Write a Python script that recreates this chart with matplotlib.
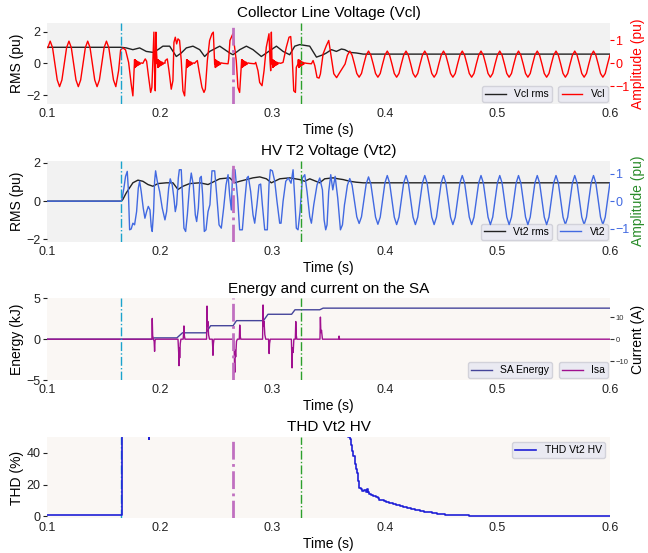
import numpy as np
import matplotlib
matplotlib.use('Agg')
import matplotlib.pyplot as plt

plt.rcParams['font.family'] = ['Liberation Sans', 'DejaVu Sans']

# ---- data ------------------------------------------------------------
dt = 1 / 480          # sample step of the steady parts (1/8 of a 60 Hz cycle)
time_ticks = [0.1, 0.2, 0.3, 0.4, 0.5, 0.6]
events = [0.1655, 0.265, 0.3255]

# Vcl waveform (pu), steady before the fault
vcl_pre_start = 0.10032
vcl_pre = [0.68,
           0.96, 0.68, -0.02, -0.72, -1.01, -0.72, -0.02, 0.68,
           0.96, 0.68, -0.02, -0.72, -1.01, -0.72, -0.02, 0.68,
           0.96, 0.68, -0.02, -0.72, -1.01, -0.72, -0.02, 0.68,
           0.96, 0.68, -0.02, -0.72, -1.01]

# Vcl during the fault (t, pu)
vcl_fault = [
    (0.1632, -0.32), (0.1650, 0.58), (0.1670, 0.67), (0.1694, 0.58), (0.1721, 0.04),
    (0.1744, -0.90), (0.1759, -1.41), (0.1768, -0.46),
    (0.1774, 0.16), (0.1777, -0.18), (0.1780, 0.15), (0.1783, -0.16), (0.1786, 0.12),
    (0.1790, -0.13), (0.1794, 0.10), (0.1798, -0.10), (0.1803, 0.07), (0.1808, -0.08),
    (0.1814, 0.05), (0.1820, -0.05), (0.1830, 0.02), (0.1848, 0.0),
    (0.1857, 0.09), (0.1869, 0.19), (0.1881, 0.09), (0.1899, -0.61), (0.1917, -1.26),
    (0.1928, -1.04), (0.1940, 0.55), (0.1946, 1.35), (0.1952, -0.32), (0.1958, -1.19),
    (0.1964, 1.35), (0.1970, 0.41), (0.1976, -0.03),
    (0.1979, 0.16), (0.1982, -0.18), (0.1985, 0.15), (0.1988, -0.16), (0.1991, 0.12),
    (0.1995, -0.13), (0.1999, 0.10), (0.2003, -0.10), (0.2008, 0.07), (0.2013, -0.08),
    (0.2019, 0.05), (0.2025, -0.05), (0.2033, 0.02), (0.2044, 0.0),
    (0.2047, 0.12), (0.2065, 0.19), (0.2080, -0.32), (0.2100, -1.12), (0.2115, -0.75),
    (0.2124, 0.91), (0.2136, 1.13), (0.2148, 0.84), (0.2160, 1.06), (0.2174, 0.99),
    (0.2189, 0.12), (0.2204, -1.19), (0.2219, -1.41), (0.2228, -0.61), (0.2234, -0.03),
    (0.2237, 0.16), (0.2240, -0.18), (0.2243, 0.15), (0.2246, -0.16), (0.2249, 0.12),
    (0.2253, -0.13), (0.2257, 0.10), (0.2261, -0.10), (0.2266, 0.07), (0.2271, -0.08),
    (0.2277, 0.05), (0.2283, -0.05), (0.2292, 0.02), (0.2308, 0.0),
    (0.2314, 0.04), (0.2332, 0.12), (0.2347, -0.32), (0.2373, -1.04), (0.2391, -1.26),
    (0.2403, -1.12), (0.2421, 0.12), (0.2441, 0.99), (0.2462, 1.28), (0.2474, 1.35),
    (0.2486, -0.03),
    (0.2489, 0.16), (0.2492, -0.18), (0.2495, 0.15), (0.2498, -0.16), (0.2501, 0.12),
    (0.2505, -0.13), (0.2509, 0.10), (0.2513, -0.10), (0.2518, 0.07), (0.2523, -0.08),
    (0.2529, 0.05), (0.2535, -0.05), (0.2544, 0.02), (0.2562, 0.0),
    (0.2605, -0.02), (0.2611, 0.19), (0.2622, 0.99), (0.2648, 1.28), (0.2678, 0.12),
    (0.2693, -1.04), (0.2708, -1.26), (0.2723, -0.03),
    (0.2726, 0.16), (0.2729, -0.18), (0.2732, 0.15), (0.2735, -0.16), (0.2738, 0.12),
    (0.2742, -0.13), (0.2746, 0.10), (0.2750, -0.10), (0.2755, 0.07), (0.2760, -0.08),
    (0.2766, 0.05), (0.2772, -0.05), (0.2781, 0.02), (0.2799, 0.0),
    (0.2842, -0.02), (0.2851, 0.04), (0.2871, -0.32), (0.2886, -0.83), (0.2907, -0.97),
    (0.2925, -0.32), (0.2945, 0.70), (0.2969, 1.28), (0.2978, 0.12), (0.2984, -0.32),
    (0.2990, 1.35), (0.2996, -0.03),
    (0.2999, 0.16), (0.3002, -0.18), (0.3005, 0.15), (0.3008, -0.16), (0.3011, 0.12),
    (0.3015, -0.13), (0.3019, 0.10), (0.3023, -0.10), (0.3028, 0.07), (0.3033, -0.08),
    (0.3039, 0.05), (0.3045, -0.05), (0.3054, 0.02), (0.3072, 0.0),
    (0.3094, 0.04), (0.3123, 0.70), (0.3147, 1.13), (0.3162, 1.16), (0.3174, 0.41),
    (0.3189, -1.19), (0.3204, -1.26), (0.3212, -0.17), (0.3227, -0.03),
    (0.3230, 0.16), (0.3233, -0.18), (0.3236, 0.15), (0.3239, -0.16), (0.3242, 0.12),
    (0.3246, -0.13), (0.3250, 0.10), (0.3254, -0.10), (0.3259, 0.07), (0.3264, -0.08),
    (0.3270, 0.05), (0.3276, -0.05), (0.3285, 0.02), (0.3303, 0.0),
    (0.3346, -0.02), (0.3361, 0.12), (0.3376, -0.10), (0.3396, -0.61), (0.3414, -0.64),
    (0.3426, -0.46), (0.3450, 0.41), (0.3479, 0.77), (0.3500, 0.99), (0.3525, 0.20),
    (0.3545, -0.45), (0.3570, -0.62), (0.3600, -0.38)]

# Vcl after the fault is cleared
vcl_post_start = 0.36453
vcl_post = [-0.03, 0.35, 0.53, 0.35, -0.03, -0.44, -0.60, -0.44,
            -0.03, 0.35, 0.53, 0.35, -0.03, -0.44, -0.60, -0.44,
            -0.03, 0.35, 0.53, 0.35, -0.03, -0.44, -0.60, -0.44,
            -0.03, 0.35, 0.53, 0.35, -0.03, -0.44, -0.60, -0.44,
            -0.03, 0.35, 0.53, 0.35, -0.03, -0.44, -0.60, -0.44,
            -0.03, 0.35, 0.53, 0.35, -0.03, -0.44, -0.60, -0.44,
            -0.03, 0.35, 0.53, 0.35, -0.03, -0.44, -0.60, -0.44,
            -0.03, 0.35, 0.53, 0.35, -0.03, -0.44, -0.60, -0.44,
            -0.03, 0.35, 0.53, 0.35, -0.03, -0.44, -0.60, -0.44,
            -0.03, 0.35, 0.53, 0.35, -0.03, -0.44, -0.60, -0.44,
            -0.03, 0.35, 0.53, 0.35, -0.03, -0.44, -0.60, -0.44,
            -0.03, 0.35, 0.53, 0.35, -0.03, -0.44, -0.60, -0.44,
            -0.03, 0.35, 0.53, 0.35, -0.03, -0.44, -0.60, -0.44,
            -0.03, 0.35, 0.53, 0.35, -0.03, -0.44, -0.60, -0.44,
            -0.03, 0.35]

vcl_rms = [
    (0.1, 1.01), (0.1656, 1.01), (0.1700, 0.97), (0.1759, 0.86), (0.1819, 0.97),
    (0.1878, 0.75), (0.1937, 0.69), (0.1982, 0.86), (0.2026, 1.08), (0.2086, 1.08),
    (0.2145, 0.43), (0.2189, 0.65), (0.2234, 0.97), (0.2293, 1.08), (0.2353, 0.86),
    (0.2397, 0.43), (0.2442, 0.75), (0.2531, 1.08), (0.2620, 0.65), (0.2649, 0.54),
    (0.2709, 0.86), (0.2768, 1.08), (0.2827, 0.86), (0.2901, 0.43), (0.2946, 0.65),
    (0.3035, 1.08), (0.3094, 0.75), (0.3153, 0.54), (0.3198, 1.08), (0.3242, 1.18),
    (0.3331, 1.08), (0.3391, 0.39), (0.3450, 0.54), (0.3479, 0.65), (0.3524, 0.86),
    (0.3568, 0.75), (0.3613, 0.90), (0.3642, 0.86), (0.3687, 0.69), (0.3746, 0.65),
    (0.3806, 0.58), (0.6, 0.58)]

# Vt2 waveform (pu), zero before the fault
vt2_fault = [
    (0.1, 0.0), (0.1655, 0.0), (0.1661, 0.05), (0.1679, 0.47), (0.1694, 0.90),
    (0.1709, 1.08), (0.1718, 0.47), (0.1730, -1.04), (0.1744, -1.01), (0.1759, -0.80),
    (0.1774, -0.86), (0.1792, -0.38), (0.1807, 0.47), (0.1819, 0.72), (0.1833, 0.35),
    (0.1851, -0.25), (0.1866, -0.62), (0.1881, -0.38), (0.1896, -0.19), (0.1911, -0.32),
    (0.1922, -0.92), (0.1931, -1.10), (0.1943, -0.38), (0.1952, 0.72), (0.1961, 1.10),
    (0.1976, 0.72), (0.1997, 0.35), (0.2020, -0.25), (0.2044, -0.68), (0.2059, -0.38),
    (0.2077, 0.47), (0.2091, 0.81), (0.2109, 0.59), (0.2124, 0.11), (0.2136, -0.38),
    (0.2148, -0.13), (0.2163, 0.84), (0.2172, 1.14), (0.2189, 1.14), (0.2201, 0.11),
    (0.2213, -0.98), (0.2228, -1.10), (0.2243, -0.50), (0.2261, 0.47), (0.2278, 1.02),
    (0.2296, 0.59), (0.2314, -0.50), (0.2326, -0.74), (0.2341, -0.25), (0.2355, 0.84),
    (0.2367, 0.90), (0.2379, 0.23), (0.2394, -1.10), (0.2409, -1.04), (0.2427, -0.38),
    (0.2444, -0.13), (0.2462, 1.10), (0.2486, 1.10), (0.2504, 0.23), (0.2525, -0.86),
    (0.2545, -0.98), (0.2566, -0.25), (0.2587, 0.59), (0.2605, 0.96), (0.2619, 0.23),
    (0.2634, -0.32), (0.2646, 1.14), (0.2667, 1.14), (0.2690, 0.11), (0.2708, -1.04),
    (0.2732, -1.04), (0.2753, -0.01), (0.2773, 0.84), (0.2785, 0.90), (0.2806, 0.35),
    (0.2827, -0.50), (0.2842, -0.80), (0.2862, -0.13), (0.2880, 0.59), (0.2895, 0.62),
    (0.2910, -0.13), (0.2931, -1.04), (0.2954, -1.04), (0.2969, 0.59), (0.2981, 1.14),
    (0.2999, 1.10), (0.3020, 0.72), (0.3040, -0.01), (0.3064, -0.80), (0.3076, -0.80),
    (0.3094, -0.01), (0.3118, 0.72), (0.3141, 0.84), (0.3165, 0.65), (0.3183, 1.14),
    (0.3198, 0.11), (0.3212, -0.98), (0.3227, -1.04), (0.3245, -0.38), (0.3266, 0.84),
    (0.3287, 0.96), (0.3307, 0.35), (0.3331, -0.56), (0.3346, -0.80), (0.3367, -0.13),
    (0.3396, 0.59), (0.3420, 0.84), (0.3444, 0.41), (0.3459, -0.68), (0.3473, -1.04),
    (0.3485, -0.86), (0.3500, 0.35), (0.3518, 0.96), (0.3536, 0.41), (0.3557, 0.90),
    (0.3580, 0.11), (0.3604, -1.04), (0.3622, -0.86), (0.3640, -0.13)]

vt2_post_start = 0.36453
vt2_post = [0.00, 0.58, 0.82, 0.58, 0.00, -0.57, -0.81, -0.57,
            0.03, 0.62, 0.88, 0.62, 0.03, -0.58, -0.84, -0.58,
            0.04, 0.66, 0.93, 0.66, 0.04, -0.58, -0.85, -0.58,
            0.04, 0.66, 0.93, 0.66, 0.04, -0.58, -0.85, -0.58,
            0.04, 0.66, 0.93, 0.66, 0.04, -0.58, -0.85, -0.58,
            0.04, 0.66, 0.93, 0.66, 0.04, -0.58, -0.85, -0.58,
            0.04, 0.66, 0.93, 0.66, 0.04, -0.58, -0.85, -0.58,
            0.04, 0.66, 0.93, 0.66, 0.04, -0.58, -0.85, -0.58,
            0.04, 0.66, 0.93, 0.66, 0.04, -0.58, -0.85, -0.58,
            0.04, 0.66, 0.93, 0.66, 0.04, -0.58, -0.85, -0.58,
            0.04, 0.66, 0.93, 0.66, 0.04, -0.58, -0.85, -0.58,
            0.04, 0.66, 0.93, 0.66, 0.04, -0.58, -0.85, -0.58,
            0.04, 0.66, 0.93, 0.66, 0.04, -0.58, -0.85, -0.58,
            0.04, 0.66, 0.93, 0.66, 0.04, -0.58, -0.85, -0.58,
            0.04, 0.66]

vt2_rms = [
    (0.1, 0.0), (0.1656, 0.0), (0.1670, 0.09), (0.1700, 0.43), (0.1730, 0.70),
    (0.1759, 0.96), (0.1804, 1.10), (0.1848, 1.04), (0.1893, 0.87), (0.1937, 0.78),
    (0.1982, 0.92), (0.2056, 0.96), (0.2115, 0.96), (0.2160, 0.61), (0.2204, 0.78),
    (0.2264, 0.92), (0.2353, 0.96), (0.2427, 0.87), (0.2531, 1.17), (0.2620, 1.22),
    (0.2664, 0.96), (0.2709, 1.04), (0.2827, 1.22), (0.2887, 1.27), (0.2946, 1.17),
    (0.2990, 0.96), (0.3065, 1.17), (0.3153, 1.22), (0.3242, 1.13), (0.3287, 1.04),
    (0.3331, 1.17), (0.3420, 0.96), (0.3464, 1.17), (0.3539, 1.22), (0.3583, 1.17),
    (0.3628, 1.13), (0.3687, 1.04), (0.3746, 0.99), (0.3806, 0.96), (0.6, 0.96)]

# surge arrester energy (kJ) and current (A)
sa_energy = [
    (0.1, 0.0), (0.193, 0.0), (0.195, 0.16), (0.215, 0.16), (0.220, 0.78),
    (0.241, 0.78), (0.245, 1.65), (0.265, 1.65), (0.268, 2.27), (0.292, 2.27),
    (0.296, 3.05), (0.317, 3.05), (0.320, 3.60), (0.342, 3.60), (0.345, 3.80),
    (0.6, 3.80)]

isa = [
    (0.1, 0), (0.1928, 0), (0.1931, 9.4), (0.1935, 1.5), (0.1940, 0.5), (0.1948, -1),
    (0.1952, -5.5), (0.1956, -0.5), (0.1962, 0),
    (0.2160, 0), (0.2166, -6), (0.2169, -12), (0.2172, -4), (0.2175, -8.5),
    (0.2180, -2), (0.2186, 0), (0.2206, 0), (0.2210, 3), (0.2213, 6), (0.2217, 1.5),
    (0.2222, 0),
    (0.2414, 0), (0.2418, 15), (0.2422, 6), (0.2426, 8), (0.2432, 2), (0.2440, 0),
    (0.2465, 0), (0.2469, -4), (0.2471, -7.3), (0.2475, -2), (0.2480, 0),
    (0.2658, 0), (0.2662, -10), (0.2665, -15), (0.2668, -5), (0.2673, -8),
    (0.2680, -1), (0.2688, 0), (0.2705, 0), (0.2709, 6.4), (0.2713, 1.5), (0.2718, 0),
    (0.2912, 0), (0.2916, 15.5), (0.2920, 6), (0.2925, 8), (0.2932, 2), (0.2940, 0),
    (0.2965, 0), (0.2970, -6.5), (0.2974, -2), (0.2980, 0),
    (0.3168, 0), (0.3172, -8), (0.3174, -13), (0.3178, -4), (0.3184, -6), (0.3190, 0),
    (0.3203, 0), (0.3207, 8), (0.3211, 2), (0.3216, 0),
    (0.3422, 0), (0.3426, 10), (0.3430, 3), (0.3436, 4), (0.3444, 0),
    (0.3588, 0), (0.3592, 1.4), (0.3596, 0), (0.6, 0)]

# THD of Vt2 (%), off scale while the fault is on
thd = [
    (0.1, 0.6), (0.13, 0.5), (0.1655, 0.5), (0.1660, 120), (0.1900, 120),
    (0.1902, 48.5), (0.1906, 120), (0.3665, 120), (0.3675, 50), (0.3690, 49),
    (0.3700, 45), (0.3710, 41), (0.3720, 38), (0.3730, 33), (0.3740, 30),
    (0.3750, 27.5), (0.3760, 22), (0.3770, 18), (0.3785, 17), (0.3800, 16),
    (0.3815, 16.5), (0.3830, 15.5), (0.3840, 17), (0.3850, 15), (0.3860, 14),
    (0.3875, 13.5), (0.3890, 12.5), (0.3905, 12.5), (0.3920, 12), (0.3935, 11.5),
    (0.3950, 10.5), (0.3970, 10), (0.3990, 9.5), (0.4010, 9), (0.4040, 8.3),
    (0.4070, 7.6), (0.4100, 7), (0.4130, 6.4), (0.4160, 5.8), (0.4195, 5.2),
    (0.4230, 4.6), (0.4270, 4), (0.4310, 3.5), (0.4345, 3), (0.4380, 2.5),
    (0.4420, 2), (0.4460, 1.6), (0.4495, 1.3), (0.4530, 1.1), (0.4565, 0.9),
    (0.4600, 0.8), (0.4675, 0.6), (0.4750, 0.4), (0.4825, 0.3), (0.4900, 0.2),
    (0.5200, 0.1), (0.6, 0.05)]


def steady(start, values):
    return start + np.arange(len(values)) * dt, np.array(values)


def pairs(p):
    a = np.array(p, dtype=float)
    return a[:, 0], a[:, 1]


def join(*parts):
    return np.concatenate([p[0] for p in parts]), np.concatenate([p[1] for p in parts])


# ---- figure ------------------------------------------------------------
fig = plt.figure(figsize=(6.48, 5.53), dpi=100)
rects = [[0.0733, 0.812, 0.868, 0.147],
         [0.0733, 0.563, 0.868, 0.1465],
         [0.0733, 0.3128, 0.868, 0.1477],
         [0.0733, 0.0627, 0.868, 0.147]]
ev_colors = ['#1aa3cc', '#c070c0', '#2ca02c']
ev_widths = [1.0, 2.0, 1.0]
leg_kw = dict(fontsize=7.5, facecolor='#eaeaf2', edgecolor='#d2d2da', framealpha=1,
              borderaxespad=0.15, borderpad=0.3)


def style(ax, bg):
    ax.set_facecolor(bg)
    for s in ax.spines.values():
        s.set_visible(False)
    ax.set_xlim(0.1, 0.6)
    ax.set_xticks(time_ticks)
    ax.set_xticklabels(['%.1f' % t for t in time_ticks])
    ax.tick_params(axis='x', length=0, labelsize=9, pad=3, colors='#222222')
    ax.tick_params(axis='y', length=3, width=0.8, labelsize=9, pad=2, colors='#222222')
    ax.set_xlabel('Time (s)', fontsize=10, labelpad=2)


def style_right(ax2, color, size=9):
    for s in ax2.spines.values():
        s.set_visible(False)
    ax2.tick_params(axis='y', length=3, width=0.8, labelsize=size, pad=1, colors=color)


def events_on(ax):
    for t, c, w in zip(events, ev_colors, ev_widths):
        ax.axvline(t, color=c, ls='-.', lw=w, zorder=5)


# 1) collector line voltage
ax = fig.add_axes(rects[0])
style(ax, '#f2f2f2')
t, v = pairs(vcl_rms)
ax.plot(t, v, color='#222222', lw=1, label='Vcl rms')
ax.set_ylim(-2.56, 2.56)
ax.set_yticks([-2, 0, 2])
ax.set_ylabel('RMS (pu)', fontsize=10, labelpad=2)
ax.set_title('Collector Line Voltage (Vcl)', fontsize=11, pad=4)
ax2 = ax.twinx()
style_right(ax2, 'red')
t, v = join(steady(vcl_pre_start, vcl_pre), pairs(vcl_fault), steady(vcl_post_start, vcl_post))
ax2.plot(t, v, color='red', lw=1, label='Vcl')
ax2.set_ylim(-1.76, 1.76)
ax2.set_yticks([-1, 0, 1])
ax2.set_ylabel('Amplitude (pu)', color='red', fontsize=10, labelpad=1)
events_on(ax2)
ax.legend(loc='lower right', bbox_to_anchor=(0.9, 0.0), **leg_kw)
ax2.legend(loc='lower right', **leg_kw)

# 2) HV T2 voltage
ax = fig.add_axes(rects[1])
style(ax, '#f2f2f2')
t, v = pairs(vt2_rms)
ax.plot(t, v, color='#222222', lw=1, label='Vt2 rms')
ax.set_ylim(-2.12, 2.12)
ax.set_yticks([-2, 0, 2])
ax.set_ylabel('RMS (pu)', fontsize=10, labelpad=2)
ax.set_title('HV T2 Voltage (Vt2)', fontsize=11, pad=4)
ax2 = ax.twinx()
style_right(ax2, 'royalblue')
t, v = join(pairs(vt2_fault), steady(vt2_post_start, vt2_post))
ax2.plot(t, v, color='royalblue', lw=1, label='Vt2')
ax2.set_ylim(-1.47, 1.47)
ax2.set_yticks([-1, 0, 1])
ax2.set_ylabel('Amplitude (pu)', color='#2a8c2a', fontsize=10, labelpad=1)
events_on(ax2)
ax.legend(loc='lower right', bbox_to_anchor=(0.9, 0.0), **leg_kw)
ax2.legend(loc='lower right', **leg_kw)

# 3) surge arrester energy and current
ax = fig.add_axes(rects[2])
style(ax, '#faf7f4')
t, v = pairs(sa_energy)
ax.plot(t, v, color='#45459a', lw=1, label='SA Energy')
ax.set_ylim(-5, 5)
ax.set_yticks([-5, 0, 5])
ax.set_ylabel('Energy (kJ)', fontsize=10, labelpad=2)
ax.set_title('Energy and current on the SA', fontsize=11, pad=4)
ax2 = ax.twinx()
style_right(ax2, '#333333', size=5.5)
t, v = pairs(isa)
ax2.plot(t, v, color='#a0108f', lw=1, label='Isa')
ax2.set_ylim(-18.5, 18.5)
ax2.set_yticks([-10, 0, 10])
ax2.set_ylabel('Current (A)', fontsize=10, labelpad=2)
events_on(ax2)
ax.legend(loc='lower right', bbox_to_anchor=(0.9, 0.0), **leg_kw)
ax2.legend(loc='lower right', **leg_kw)

# 4) THD
ax = fig.add_axes(rects[3])
style(ax, '#faf7f4')
events_on(ax)
t, v = pairs(thd)
ax.plot(t, v, color='#1f1fd6', lw=1.2, drawstyle='steps-post', label='THD Vt2 HV', zorder=6)
ax.set_ylim(-1.3, 50)
ax.set_yticks([0, 20, 40])
ax.set_ylabel('THD (%)', fontsize=10, labelpad=2)
ax.set_title('THD Vt2 HV', fontsize=11, pad=4)
ax.legend(loc='upper right', fontsize=7.5, facecolor='#eaeaf2', edgecolor='#d2d2da',
          framealpha=1, borderpad=0.3)

fig.savefig('out.png', dpi=100)
